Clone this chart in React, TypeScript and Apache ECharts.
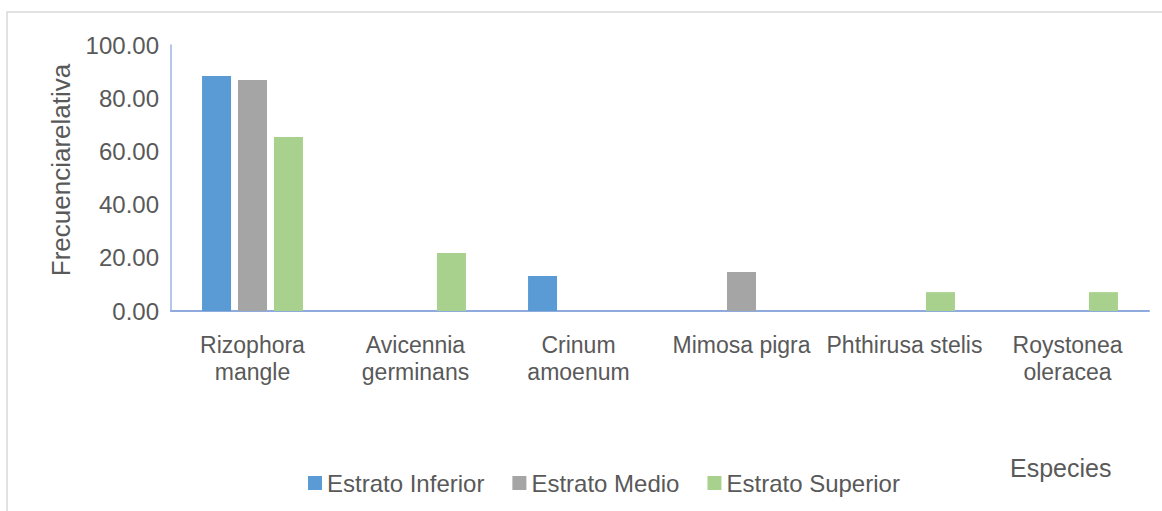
import React, { useEffect, useRef } from "react";
import * as echarts from "echarts";

const categories = [
  "Rizophora\nmangle",
  "Avicennia\ngerminans",
  "Crinum\namoenum",
  "Mimosa pigra",
  "Phthirusa stelis",
  "Roystonea\noleracea",
];
const seriesNames = ["Estrato Inferior", "Estrato Medio", "Estrato Superior"];
const inferior = [88.3, 0, 13.2, 0, 0, 0];
const medio = [86.8, 0, 0, 14.7, 0, 0];
const superior = [65.4, 21.8, 0, 0, 7.1, 7.1];
const colors = ["#5B9BD5", "#A5A5A5", "#A9D18E"];
const yTitle = "Frecuenciarelativa";
const xTitle = "Especies";

const FONT = "'Liberation Sans', Arial, sans-serif";
const TEXT = "#595959";

export default function App() {
  const ref = useRef<HTMLDivElement>(null);
  useEffect(() => {
    if (!ref.current) return;
    const chart = echarts.init(ref.current, undefined, { renderer: "svg" });
    const values = [inferior, medio, superior];
    chart.setOption({
      animation: false,
      backgroundColor: "#ffffff",
      textStyle: { fontFamily: FONT },
      grid: { left: 171, right: 13, top: 45, bottom: 200, containLabel: false },
      legend: {
        left: 308,
        top: 471,
        padding: 0,
        itemWidth: 14,
        itemHeight: 14,
        itemGap: 28,
        icon: "rect",
        textStyle: { fontFamily: FONT, fontSize: 24, color: TEXT, lineHeight: 24 },
        data: seriesNames,
      },
      xAxis: {
        type: "category",
        data: categories,
        axisLine: { show: true, lineStyle: { color: "#8FAADC", width: 2 } },
        axisTick: { show: false },
        axisLabel: {
          interval: 0,
          margin: 20,
          color: TEXT,
          fontSize: 23,
          lineHeight: 27,
          fontFamily: FONT,
        },
        splitLine: { show: false },
      },
      yAxis: {
        type: "value",
        min: 0,
        max: 100,
        interval: 20,
        axisLine: { show: true, lineStyle: { color: "#9DB5DF", width: 1.5 } },
        axisTick: { show: false },
        splitLine: { show: false },
        axisLabel: {
          margin: 12,
          color: TEXT,
          fontSize: 24,
          fontFamily: FONT,
          formatter: (v: number) => v.toFixed(2),
        },
      },
      series: seriesNames.map((name, i) => ({
        name,
        type: "bar",
        data: values[i],
        barWidth: 29,
        barGap: "24%",
        itemStyle: { color: colors[i] },
      })),
      graphic: [
        {
          type: "rect",
          shape: { x: 7, y: 12, width: 1200, height: 600 },
          style: { fill: "none", stroke: "#D9D9D9", lineWidth: 1.5 },
          silent: true,
          z: -1,
        },
        {
          type: "text",
          x: 61,
          y: 170,
          rotation: Math.PI / 2,
          style: {
            text: yTitle,
            fontSize: 26,
            fontFamily: FONT,
            fill: TEXT,
            align: "center",
            verticalAlign: "middle",
          },
        },
        {
          type: "text",
          x: 1010,
          y: 468,
          style: {
            text: xTitle,
            fontSize: 25,
            fontFamily: FONT,
            fill: TEXT,
            align: "left",
            verticalAlign: "middle",
          },
        },
      ],
    });
    return () => chart.dispose();
  }, []);
  return (
    <div
      ref={ref}
      style={{ position: "absolute", left: 0, top: 0, width: 1162, height: 511 }}
    />
  );
}
